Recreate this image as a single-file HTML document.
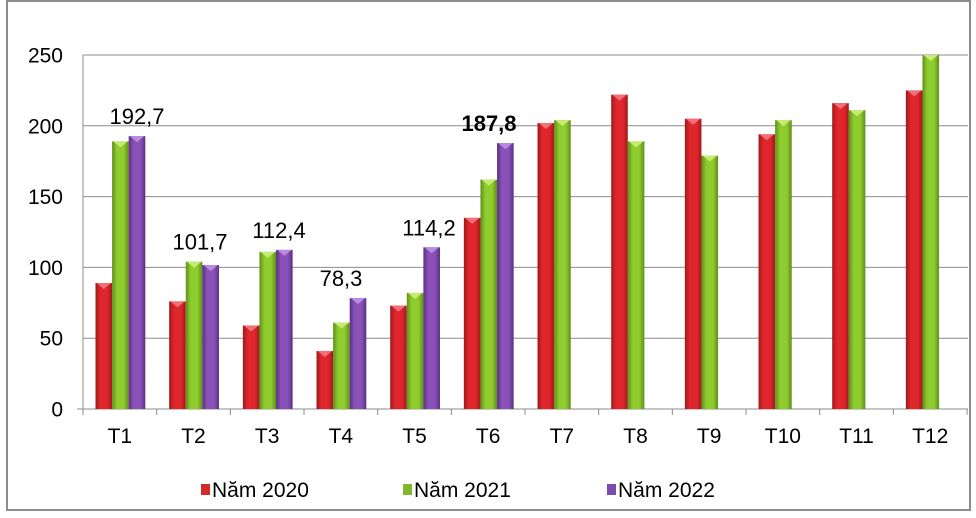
<!DOCTYPE html>
<html><head><meta charset="utf-8"><style>
html,body{margin:0;padding:0;background:#fff;}
svg{display:block;font-family:"Liberation Sans",Arial,sans-serif;}
</style></head><body>
<svg id="c" width="976" height="518" viewBox="0 0 976 518" xmlns="http://www.w3.org/2000/svg">
<defs>
<linearGradient id="gr" x1="0" x2="1"><stop offset="0" stop-color="#9e1a1a"/><stop offset="0.3" stop-color="#e0262c"/><stop offset="0.7" stop-color="#e0262c"/><stop offset="1" stop-color="#a01c1c"/></linearGradient>
<linearGradient id="gg" x1="0" x2="1"><stop offset="0" stop-color="#5e8f1a"/><stop offset="0.3" stop-color="#8fcc2e"/><stop offset="0.7" stop-color="#8fcc2e"/><stop offset="1" stop-color="#5e8f1a"/></linearGradient>
<linearGradient id="gp" x1="0" x2="1"><stop offset="0" stop-color="#5b2f82"/><stop offset="0.3" stop-color="#8a52b8"/><stop offset="0.7" stop-color="#8a52b8"/><stop offset="1" stop-color="#5b2f82"/></linearGradient>
</defs>
<rect x="7" y="1" width="963" height="509" fill="#fff" stroke="#8c8c8c" stroke-width="2"/>
<g id="g"></g>
</svg>
<script>
var g=document.getElementById('g'),s='';
var y0=409,k=70.8/50,L=83,W=73.67;
[0,50,100,150,200,250].forEach(function(v){var y=y0-v*k;
s+='<line x1="'+(v?L:77)+'" x2="968" y1="'+y+'" y2="'+y+'" stroke="#8c8c8c" stroke-width="1"/>';
s+='<text x="63" y="'+(y+7.5)+'" font-size="21" text-anchor="end">'+v+'</text>';});
s+='<line x1="'+L+'" x2="'+L+'" y1="55" y2="415" stroke="#8c8c8c"/>';
for(var i=0;i<=12;i++){var x=L+i*W;s+='<line x1="'+x+'" x2="'+x+'" y1="409" y2="415" stroke="#8c8c8c"/>';}
var d=[[89,189,192.7],[76,104,101.7],[59,111,112.4],[41,61,78.3],[73,82,114.2],[135,162,187.8],[202,204],[222,189],[205,179],[194,204],[216,211],[225,250]];
var col=['gr','gg','gp'],hi=['#f0707a','#c4ec70','#b88ae0'];
var lab=['192,7','101,7','112,4','78,3','114,2','187,8'],lx=[137,200,279,341,429,489];
d.forEach(function(r,i){var cx=L+i*W;
r.forEach(function(v,j){var x=cx+12.5+j*16.6,w=16.6,h=v*k,y=y0-h;
s+='<rect x="'+x+'" y="'+y+'" width="'+w+'" height="'+h+'" fill="url(#'+col[j]+')"/>';
s+='<polygon points="'+(x+1)+','+y+' '+(x+w-1)+','+y+' '+(x+w/2)+','+(y+6)+'" fill="'+hi[j]+'"/>';});
s+='<text x="'+(cx+W/2)+'" y="443" font-size="21" text-anchor="middle">T'+(i+1)+'</text>';
if(i<6){var top=y0-Math.max(r[1],r[2])*k;
s+='<text x="'+lx[i]+'" y="'+(top-12)+'" font-size="22" text-anchor="middle"'+(i==5?' font-weight="bold"':'')+'>'+lab[i]+'</text>';}
});
var lg=[[201,'#d52a2a','Năm 2020'],[403,'#7fb82a','Năm 2021'],[607,'#7f4aae','Năm 2022']];
lg.forEach(function(a){s+='<rect x="'+a[0]+'" y="484" width="9" height="11" fill="'+a[1]+'"/><text x="'+(a[0]+11)+'" y="497" font-size="21">'+a[2]+'</text>';});
g.innerHTML=s;
</script>
</body></html>
